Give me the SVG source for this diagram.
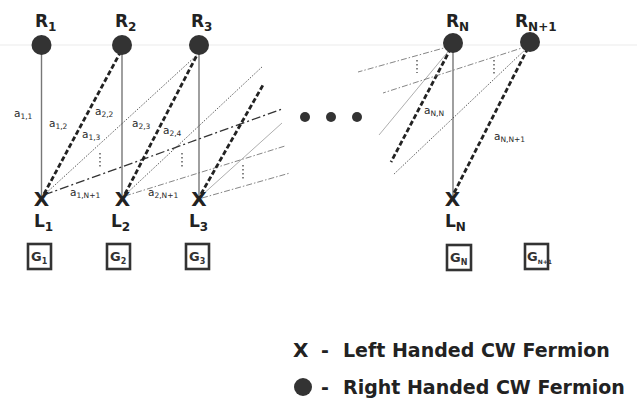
<svg xmlns="http://www.w3.org/2000/svg" width="637" height="404" viewBox="0 0 637 404">
<style>
.lbl{font-family:"DejaVu Sans",sans-serif;font-weight:bold;fill:#222}
.a{font-family:"DejaVu Sans",sans-serif;font-size:10.5px;fill:#2a2a2a}
.sub{font-size:7.5px}
.vert{stroke:#777;stroke-width:1.4;fill:none}
.thick{stroke:#222;stroke-width:2.8;stroke-dasharray:5 2.5;fill:none}
.dot{stroke:#333;stroke-width:0.8;stroke-dasharray:1.5 1.5;fill:none}
.dd{stroke:#333;stroke-width:1.3;stroke-dasharray:9 3 2 3;fill:none}
.ddl{stroke:#666;stroke-width:0.8;stroke-dasharray:6 2 1.5 2;fill:none}
.thin{stroke:#999;stroke-width:0.8;fill:none}
.vd{stroke:#444;stroke-width:1.3;stroke-dasharray:1.5 2.5;fill:none}
.node{fill:#333}
.box{fill:#fff;stroke:#333;stroke-width:2.6}
.g{font-family:"DejaVu Sans",sans-serif;font-size:13px;font-weight:bold;fill:#333}
</style>
<rect width="637" height="404" fill="#fff"/>
<line x1="0" y1="45" x2="637" y2="45" stroke="#f2f2f2" stroke-width="1.5"/>
<g id="connectors">
<line class="vert" x1="41.5" y1="45" x2="41.5" y2="198"/>
<line class="vert" x1="122" y1="45" x2="122" y2="198"/>
<line class="vert" x1="199" y1="45" x2="199" y2="198"/>
<line class="vert" x1="453" y1="43" x2="453" y2="198"/>
<line class="thick" x1="44" y1="194" x2="120" y2="53"/>
<line class="dot" x1="44" y1="195" x2="197" y2="55"/>
<line class="dd" x1="44" y1="195" x2="282" y2="109"/>
<line class="thick" x1="125" y1="194" x2="197" y2="55"/>
<line class="dot" x1="125" y1="195" x2="263" y2="66"/>
<line class="ddl" x1="125" y1="196" x2="285" y2="146"/>
<line class="thick" x1="201" y1="194" x2="263" y2="85"/>
<line class="thin" x1="201" y1="196" x2="282" y2="123"/>
<line class="ddl" x1="202" y1="198" x2="290" y2="173" stroke="#888"/>
<line class="ddl" x1="451" y1="46" x2="358" y2="72" stroke="#888"/>
<line class="thin" x1="451" y1="48" x2="379" y2="135"/>
<line class="thick" x1="451" y1="48" x2="391" y2="162"/>
<line class="ddl" x1="528" y1="46" x2="383" y2="93"/>
<line class="dot" x1="528" y1="47" x2="393" y2="175"/>
<line class="thick" x1="528" y1="48" x2="454" y2="193"/>
<line class="vd" x1="100" y1="153" x2="100" y2="168"/>
<line class="vd" x1="182" y1="153" x2="182" y2="168"/>
<line class="vd" x1="243" y1="165" x2="243" y2="181"/>
<line class="vd" x1="417" y1="60" x2="417" y2="73"/>
<line class="vd" x1="494" y1="60" x2="494" y2="75"/>
</g>
<g id="labels-a">
<text class="a" x="14" y="117">a<tspan class="sub" dy="2">1,1</tspan></text>
<text class="a" x="49" y="127">a<tspan class="sub" dy="2">1,2</tspan></text>
<text class="a" x="95" y="115">a<tspan class="sub" dy="2">2,2</tspan></text>
<text class="a" x="82" y="138">a<tspan class="sub" dy="2">1,3</tspan></text>
<text class="a" x="132" y="127">a<tspan class="sub" dy="2">2,3</tspan></text>
<text class="a" x="163" y="134">a<tspan class="sub" dy="2">2,4</tspan></text>
<text class="a" x="70" y="196">a<tspan class="sub" dy="2">1,N+1</tspan></text>
<text class="a" x="148" y="196">a<tspan class="sub" dy="2">2,N+1</tspan></text>
<text class="a" x="424" y="114">a<tspan class="sub" dy="2">N,N</tspan></text>
<text class="a" x="494" y="140">a<tspan class="sub" dy="2">N,N+1</tspan></text>
</g>
<g id="R1"><circle class="node" cx="41.5" cy="45" r="10"/><text class="lbl" x="35" y="27" font-size="17">R<tspan font-size="12" dy="4">1</tspan></text></g>
<g id="R2"><circle class="node" cx="122" cy="45" r="10"/><text class="lbl" x="115" y="27" font-size="17">R<tspan font-size="12" dy="4">2</tspan></text></g>
<g id="R3"><circle class="node" cx="199" cy="45" r="10"/><text class="lbl" x="191" y="27" font-size="17">R<tspan font-size="12" dy="4">3</tspan></text></g>
<g id="RN"><circle class="node" cx="453" cy="43" r="10"/><text class="lbl" x="446" y="27" font-size="17">R<tspan font-size="12" dy="4">N</tspan></text></g>
<g id="RN1"><circle class="node" cx="530" cy="42" r="10"/><text class="lbl" x="515" y="27" font-size="17">R<tspan font-size="12" dy="4">N+1</tspan></text></g>
<g id="L1"><text class="lbl" x="41.5" y="206" font-size="20" text-anchor="middle">X</text><text class="lbl" x="34" y="227" font-size="17">L<tspan font-size="12" dy="4">1</tspan></text></g>
<g id="L2"><text class="lbl" x="122.5" y="206" font-size="20" text-anchor="middle">X</text><text class="lbl" x="111" y="227" font-size="17">L<tspan font-size="12" dy="4">2</tspan></text></g>
<g id="L3"><text class="lbl" x="199" y="206" font-size="20" text-anchor="middle">X</text><text class="lbl" x="189" y="227" font-size="17">L<tspan font-size="12" dy="4">3</tspan></text></g>
<g id="LN"><text class="lbl" x="452.5" y="206" font-size="20" text-anchor="middle">X</text><text class="lbl" x="445" y="227" font-size="17">L<tspan font-size="12" dy="4">N</tspan></text></g>
<g id="G1"><rect class="box" x="28" y="244" width="23" height="25"/><text class="g" x="31" y="261">G<tspan font-size="8" dy="3">1</tspan></text></g>
<g id="G2"><rect class="box" x="107" y="244" width="23" height="25"/><text class="g" x="110" y="261">G<tspan font-size="8" dy="3">2</tspan></text></g>
<g id="G3"><rect class="box" x="186" y="244" width="23" height="25"/><text class="g" x="189" y="261">G<tspan font-size="8" dy="3">3</tspan></text></g>
<g id="GN"><rect class="box" x="447" y="245" width="24" height="25"/><text class="g" x="450" y="262">G<tspan font-size="8" dy="3">N</tspan></text></g>
<g id="GN1"><rect class="box" x="525" y="244" width="23" height="25"/><text class="g" x="527" y="261" font-size="11">G<tspan font-size="6" dy="3">N+1</tspan></text></g>
<g id="ellipsis"><circle class="node" cx="305" cy="117" r="5"/><circle class="node" cx="331" cy="117" r="5"/><circle class="node" cx="357" cy="117" r="5"/></g>
<g id="legend">
<text class="lbl" x="293" y="357" font-size="20">X</text>
<text class="lbl" x="321" y="357" font-size="19">-</text>
<text class="lbl" x="343" y="357" font-size="19">Left Handed CW Fermion</text>
<circle class="node" cx="303" cy="387" r="9"/>
<text class="lbl" x="321" y="394" font-size="19">-</text>
<text class="lbl" x="343" y="394" font-size="19">Right Handed CW Fermion</text>
</g>
</svg>
